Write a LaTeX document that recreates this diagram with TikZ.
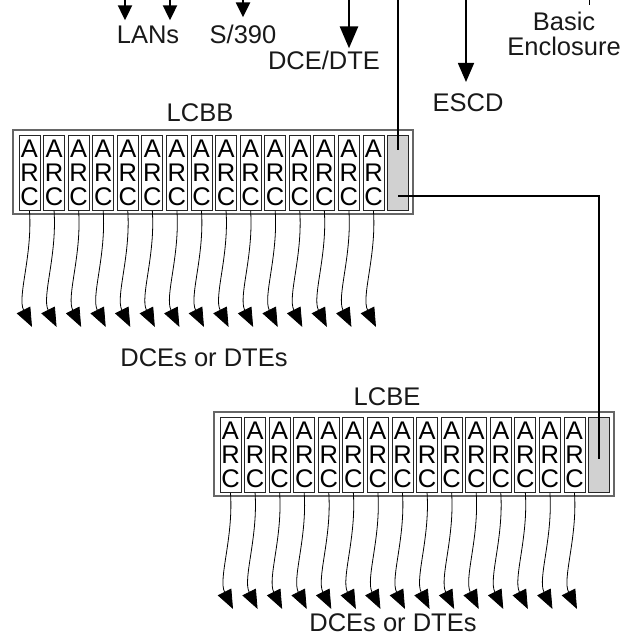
\documentclass[tikz,border=0pt]{standalone}
\usepackage{fontspec}
\setmainfont{Liberation Sans}
\usetikzlibrary{arrows.meta}

\begin{document}
\begin{tikzpicture}[
  x=1pt, y=-1pt, font=\fontsize{25.5}{25}\selectfont,
  lab/.style   ={inner sep=0,text=black!90},
  rack/.style  ={draw=black!60,line width=1.2pt,minimum width=400pt,minimum height=84pt,inner sep=0},
  arcbox/.style={draw=black!85,line width=0.9pt,fill=white,minimum width=21pt,minimum height=75pt,
                 inner sep=0,align=center,font=\fontsize{25.5}{24}\selectfont},
  port/.style  ={arcbox,fill=black!18},
  cab/.style   ={draw,line width=2.8pt},
  tick/.style  ={draw,line width=1pt},
  feed/.style  ={draw,line width=2.4pt,-{Triangle[length=15pt,width=14pt]}},
  heavy/.style ={draw,line width=2.8pt,-{Triangle[length=22pt,width=18pt]}},
  lite/.style  ={draw,line width=1.6pt,-{Triangle[length=19pt,width=16pt]}},
  wig/.style   ={draw,line width=0.8pt,-{Triangle[length=19pt,width=15pt]}},
]
\useasboundingbox (0,0) rectangle (632,636);

% ----------------------------------------------------------- top labels
\node[lab,anchor=base] (lans) at (148,44) {LANs};
\node[lab,anchor=base] (s390) at (243,44) {S/390};
\node[lab,anchor=base] (dce)  at (324,70) {DCE/DTE};
\node[lab,anchor=base] (escd) at (468,112) {ESCD};
\node[lab,anchor=north,align=center] (encl) at (564,12) {Basic\\Enclosure};

\coordinate (tLanA) at (125,0);
\coordinate (tLanB) at (170,0);
\coordinate (tHost) at (243,0);
\coordinate (tDce)  at (349,0);
\coordinate (tEscd) at (466,0);
\coordinate (tEncl) at (589,0);

\draw[feed]  (tLanA) -- ([yshift=6pt]tLanA |- lans.north);
\draw[feed]  (tLanB) -- ([yshift=6pt]tLanB |- lans.north);
\draw[feed]  (tHost) -- ([yshift=8pt]tHost |- s390.north);
\draw[heavy] (tDce)  -- ([yshift=3pt]tDce |- dce.north);
\draw[lite]  (tEscd) -- ([yshift=12pt]tEscd |- escd.north);
\draw[tick]  (tEncl) -- ([yshift=7pt]tEncl |- encl.north);

% ----------------------------------------------------------- the two racks
\foreach \r/\ox/\oy in {lcbb/13/130, lcbe/214/412} {
  \node[rack] (\r) at (\ox+200,\oy+42) {};
  \foreach \i in {0,...,14} {
    \node[arcbox] (\r\i) at (\ox+16.5+24.57*\i,\oy+43) {A\\R\\C};
    \draw[wig] (\r\i.south) .. controls +(3,45) and +(-15,-30)
      .. ([xshift=2.5pt,yshift=-116pt]\r\i.south);
  }
  \node[port] (\r15) at (\ox+16.5+24.57*15,\oy+43) {};
}

\node[lab,anchor=base] (lcbbl) at (200,122) {LCBB};
\node[lab,anchor=base] (lcbel) at (387,405) {LCBE};
\node[lab,anchor=base] (endsB) at (204,366) {DCEs or DTEs};
\node[lab,anchor=base] (endsE) at (393,631) {DCEs or DTEs};

% ----------------------------------------------------------- cabling
\coordinate (tLink) at (lcbb15.north |- 0,0);
\draw[cab] (tLink) -- ([yshift=-15pt]lcbb15.north);
\draw[cab] ([yshift=-23pt]lcbb15.center) -| ([yshift=-4pt]lcbe15.center);

\end{tikzpicture}
\end{document}
